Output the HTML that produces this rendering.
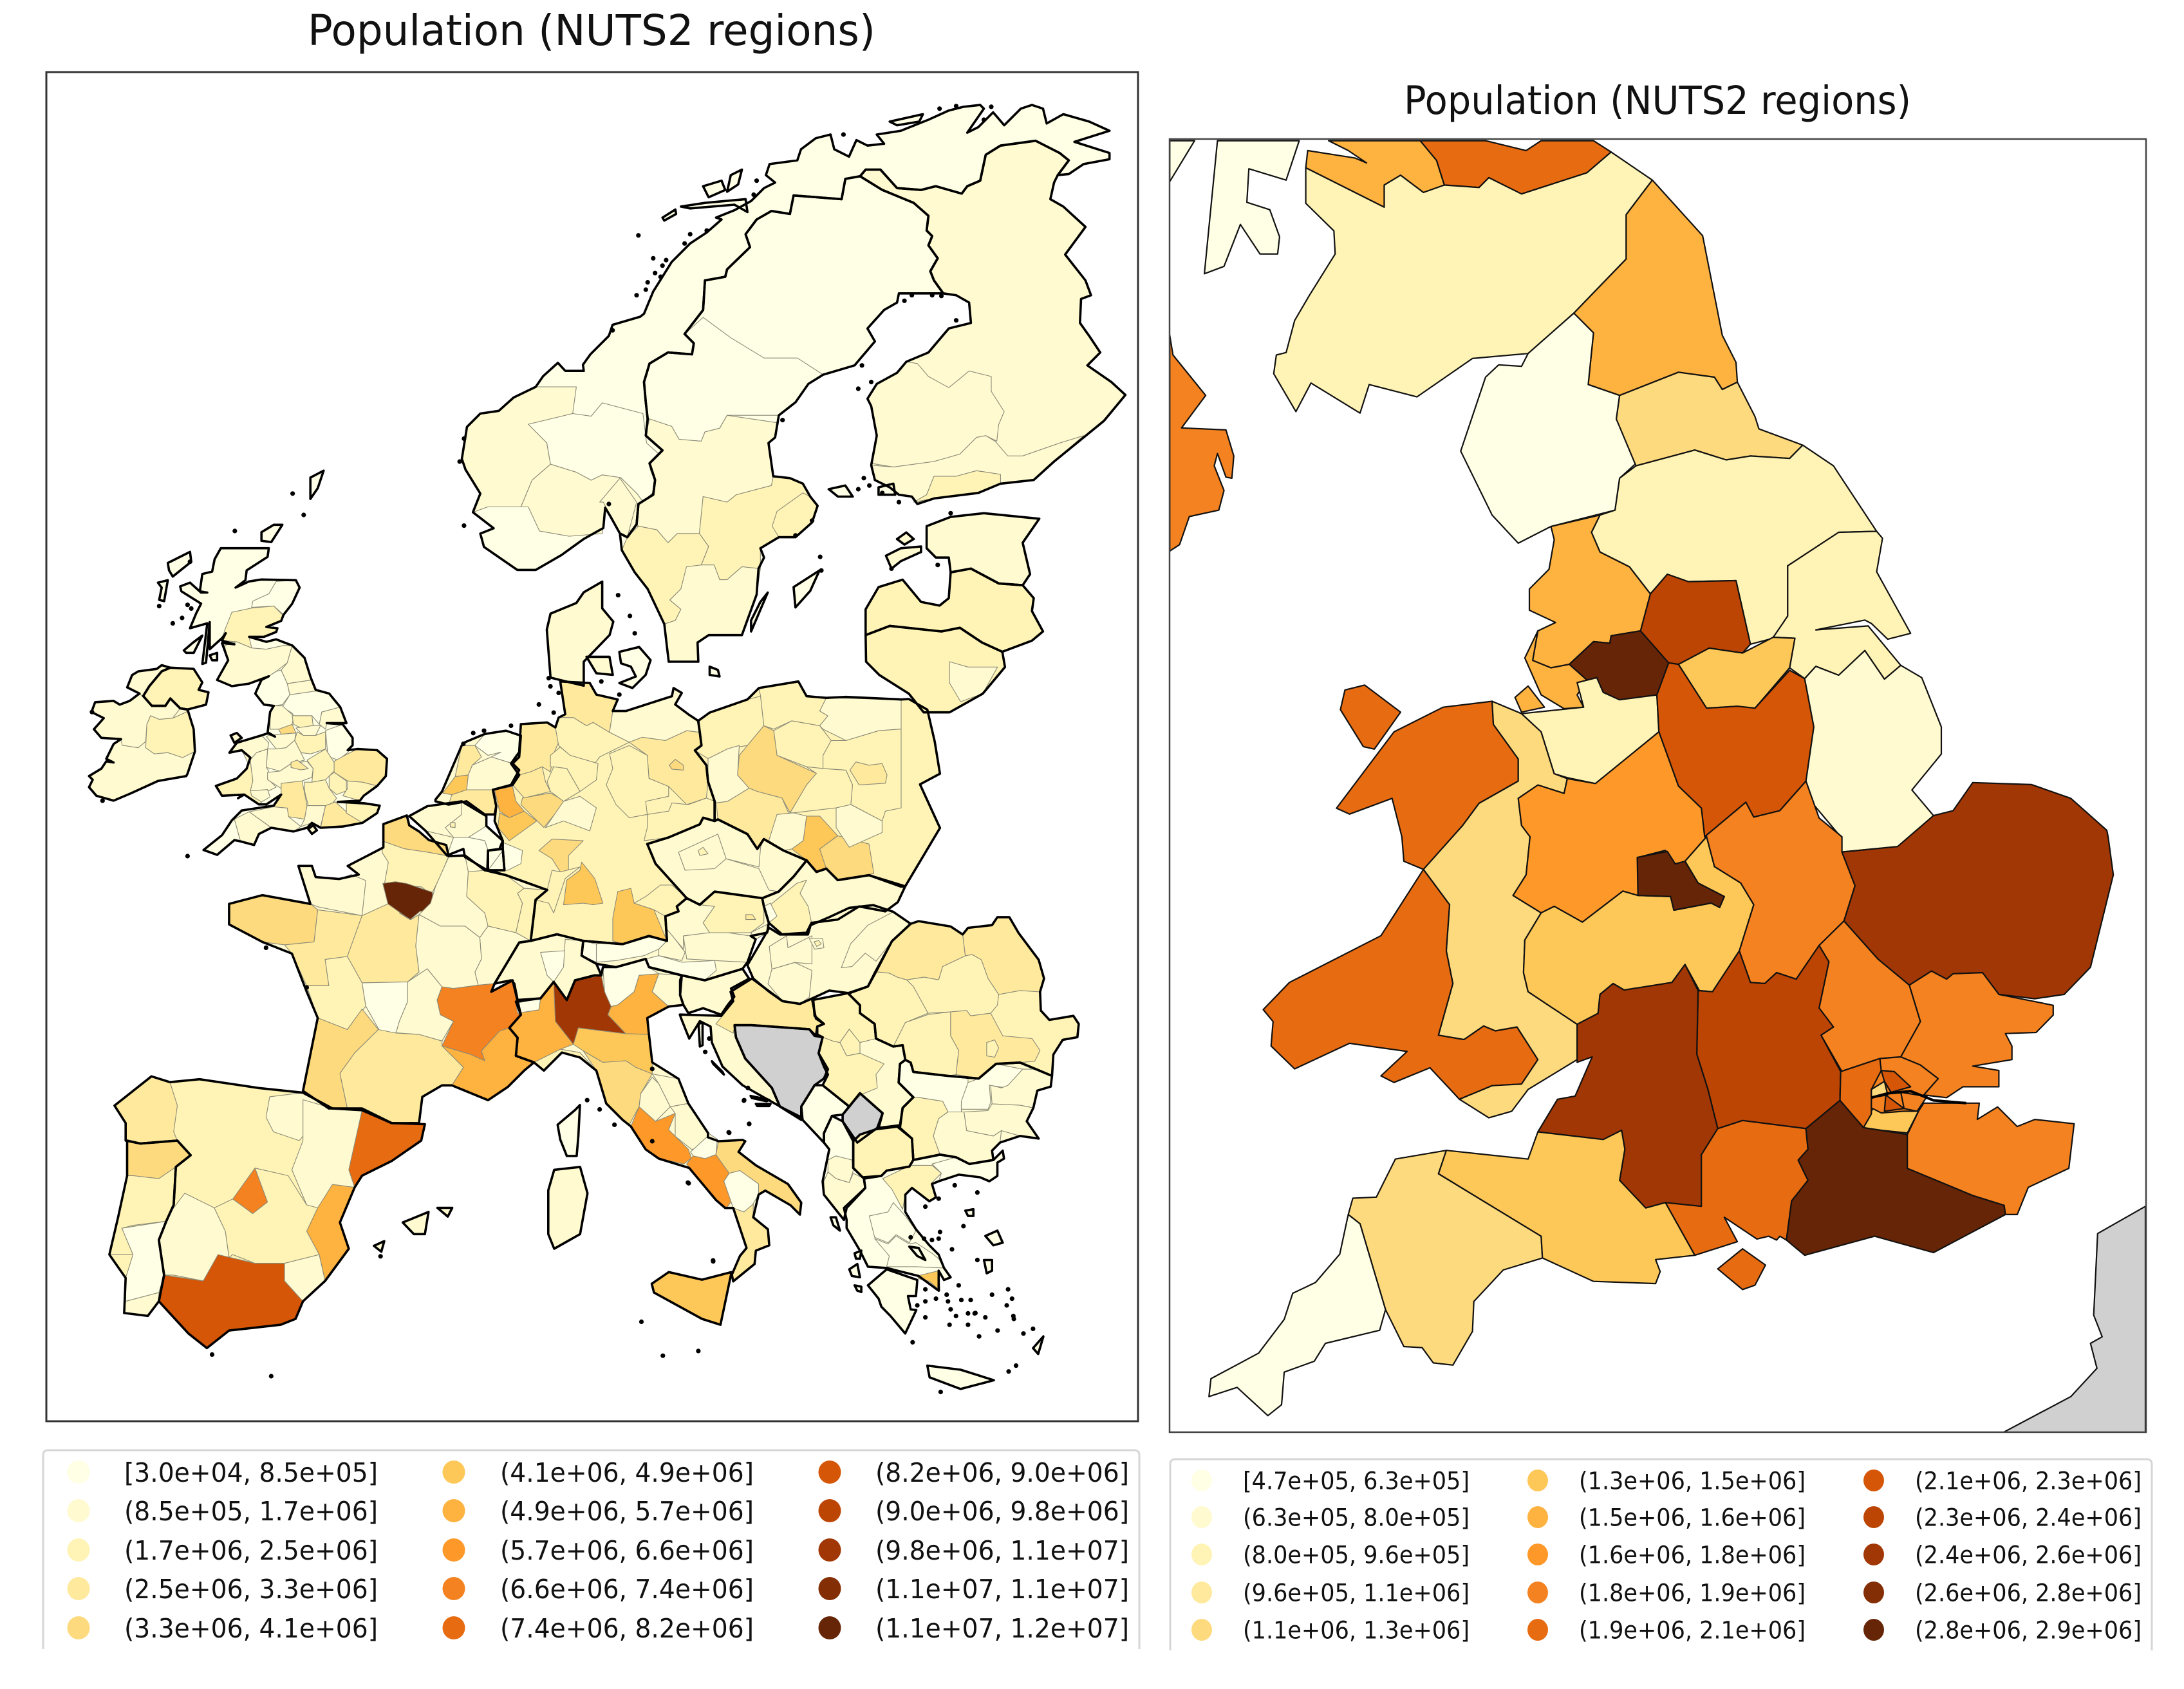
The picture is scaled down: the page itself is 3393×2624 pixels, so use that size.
<!DOCTYPE html>
<html lang="en">
<head>
<meta charset="utf-8">
<title>Population (NUTS2 regions)</title>
<style>
html,body{margin:0;padding:0;background:#fff;}
body{width:3393px;height:2624px;overflow:hidden;}
svg{display:block;}
text{font-family:"DejaVu Sans","Liberation Sans",sans-serif;fill:#111;}
</style>
</head>
<body>
<svg id="figure" xmlns="http://www.w3.org/2000/svg" width="3393" height="2624" viewBox="0 0 3393 2624">
  <defs>
    <clipPath id="clip-left"><rect x="72" y="112" width="1696" height="2096"/></clipPath>
    <clipPath id="clip-right"><rect x="1817" y="216" width="1517" height="2009"/></clipPath>
  </defs>
  <rect x="0" y="0" width="3393" height="2624" fill="#ffffff"/>
  <text x="478" y="70" font-size="66" textLength="882" lengthAdjust="spacingAndGlyphs">Population (NUTS2 regions)</text>
  <text x="2181" y="177" font-size="61" textLength="788" lengthAdjust="spacingAndGlyphs">Population (NUTS2 regions)</text>
  <g id="left-map" clip-path="url(#clip-left)"></g>
  <g id="right-map" clip-path="url(#clip-right)"></g>
  <rect x="72" y="112" width="1696" height="2096" fill="none" stroke="#333" stroke-width="3"/>
  <rect x="1817" y="216" width="1517" height="2009" fill="none" stroke="#444" stroke-width="2.5"/>
  <path d="M67 2562V2261Q67 2253 75 2253H1762Q1770 2253 1770 2261V2562" fill="none" stroke="#d6d6d6" stroke-width="3"/>
  <path d="M1818 2564V2275Q1818 2267 1826 2267H3335Q3343 2267 3343 2275V2564" fill="none" stroke="#d6d6d6" stroke-width="3"/>
  <g id="left-legend"></g>
  <g id="right-legend"></g>
</svg>
<script>
/* ---------- Colour classes and legends ---------- */
const classColors = ['#ffffe5','#fffad0','#fff4b6','#fee99d','#feda7e','#fec858','#feb23f','#fe9929','#f48220','#e76b11','#d55607','#bd4503','#a03704','#832e05','#662506'];
const missingColor = '#d0d0d0';
const leftLegendLabels = ['[3.0e+04, 8.5e+05]','(8.5e+05, 1.7e+06]','(1.7e+06, 2.5e+06]','(2.5e+06, 3.3e+06]','(3.3e+06, 4.1e+06]','(4.1e+06, 4.9e+06]','(4.9e+06, 5.7e+06]','(5.7e+06, 6.6e+06]','(6.6e+06, 7.4e+06]','(7.4e+06, 8.2e+06]','(8.2e+06, 9.0e+06]','(9.0e+06, 9.8e+06]','(9.8e+06, 1.1e+07]','(1.1e+07, 1.1e+07]','(1.1e+07, 1.2e+07]'];
const rightLegendLabels = ['[4.7e+05, 6.3e+05]','(6.3e+05, 8.0e+05]','(8.0e+05, 9.6e+05]','(9.6e+05, 1.1e+06]','(1.1e+06, 1.3e+06]','(1.3e+06, 1.5e+06]','(1.5e+06, 1.6e+06]','(1.6e+06, 1.8e+06]','(1.8e+06, 1.9e+06]','(1.9e+06, 2.1e+06]','(2.1e+06, 2.3e+06]','(2.3e+06, 2.4e+06]','(2.4e+06, 2.6e+06]','(2.6e+06, 2.8e+06]','(2.8e+06, 2.9e+06]'];
const leftBinEdges = [0.85,1.7,2.5,3.3,4.1,4.9,5.7,6.6,7.4,8.2,9.0,9.8,10.5,11.3,12.0];
const rightBinEdges = [0.63,0.80,0.96,1.12,1.28,1.44,1.60,1.76,1.92,2.08,2.24,2.40,2.56,2.72,2.90];

/* ---------- Europe map: population in millions ---------- */
const leftCountryNames = [
 'norway','sweden','finland','estonia','latvia','lithuania',
 'jutland','fyn','sjaelland','great-britain','ireland','northern-ireland','isle-of-wight','anglesey',
 'netherlands','belgium','luxembourg','france','spain','portugal',
 'italy','sicily','sardinia','corsica','switzerland','germany','poland','czechia','slovakia','hungary','austria','slovenia',
 'croatia','bosnia','serbia','kosovo','montenegro','albania','macedonia','bulgaria','romania','greece','peloponnese','crete',
 'gotland','oland','saaremaa','hiiumaa','lofoten','andoya','vesteralen','hinnoya','soroya','shetland','orkney','lewis','uist','islay','arran','mallorca','menorca','ibiza','aland-a','aland-b','bornholm','corfu','euboea','lesbos','chios','lemnos','kefalonia','zakynthos','lefkada','rhodes','krk','pag','brac','hvar'];
const leftCountryValues = [
 0.4,0.4,1.2,1.2,2.0,2.0,
 1.2,1.2,0.4,0.4,1.2,2.1,1.2,1.2,
 1.2,1.2,0.4,1.2,2.1,2.1,
 1.2,4.5,1.6,0.3,1.2,2.1,2.1,1.2,1.2,1.2,1.2,1.2,
 1.2,null,1.2,null,0.4,0.4,2.1,1.2,2.1,0.4,0.4,0.4,
 0.4,0.4,1.2,1.2,0.4,0.4,0.4,0.4,0.4,0.4,0.4,0.4,0.4,0.4,0.4,1.2,1.2,1.2,0.4,0.4,0.4,0.4,0.4,0.4,0.4,0.4,0.4,0.4,0.4,0.4,0.4,0.4,0.4,0.4];
const leftRegionNames = [
 'no-west','no-inner','no-southeast','no-oslo',
 'se-north','se-central','se-east','se-sthlm','se-west','se-south',
 'fi-west','fi-south','fi-helsinki','lt-vilnius',
 'scot-ne','scot-central','scot-south','en-northeast','en-tees','en-cumbria','en-yorks','en-lancs','en-westyorks','en-manch','en-eastyorks','en-southyorks','en-lincoln','en-cheshire','en-derby','wales-nw','en-shrops','wales-east','wales-sw','en-gwent','en-midwest','en-birmingham','en-leics','en-eastanglia','en-beds','en-essex','en-berks','en-wilts','en-hants','en-surrey','en-kent','en-somerset','en-devon','en-cornwall',
 'ie-west','ie-mideast',
 'nl-friesland','nl-noord','nl-zuid','nl-utrecht','nl-brabant',
 'be-flanders','be-brussels','be-liege','be-hainaut',
 'fr-nord','fr-normandy','fr-picardy','fr-paris','fr-brittany','fr-loire','fr-centre','fr-champagne','fr-lorraine','fr-alsace','fr-franche','fr-burgundy','fr-poitou','fr-limousin','fr-auvergne','fr-rhone','fr-paca','fr-aquitaine','fr-midi',
 'es-galicia','es-basque','es-aragon','es-catalonia','es-valencia','es-madrid','es-extremadura','es-mancha','es-andalusia','es-murcia',
 'pt-north','pt-centre','pt-alentejo','pt-algarve',
 'it-aosta','it-piedmont','it-lombardy','it-trentino','it-veneto','it-friuli','it-emilia','it-liguria','it-tuscany','it-umbria','it-marche','it-lazio','it-abruzzo','it-molise','it-campania','it-puglia','it-basilicata','it-calabria',
 'ch-zurich','ch-east',
 'de-schleswig','de-mecklenburg','de-brandenburg','de-berlin','de-weser','de-luneburg','de-braunschweig','de-anhalt','de-munster','de-arnsberg','de-dusseldorf','de-koln','de-kassel','de-hessen','de-trier','de-darmstadt','de-freiburg','de-stuttgart','de-oberbayern','de-niederbayern','de-saxony',
 'pl-zachodnio','pl-pomorskie','pl-warmia','pl-kujawsko','pl-lubuskie','pl-wielkopolska','pl-lodzkie','pl-mazowieckie','pl-warsaw','pl-dolno','pl-opole','pl-slaskie','pl-malopolska','pl-swieto',
 'cz-prague-ring','cz-prague','cz-east',
 'sk-west','sk-bratislava',
 'hu-west','hu-budapest-ring','hu-budapest','hu-east','hu-south',
 'at-tirol','at-vorarlberg','at-kaernten','at-salzburg','at-upper','at-lower','at-vienna','at-steiermark','at-burgenland',
 'hr-pannonian',
 'rs-vojvodina','rs-belgrade','rs-west',
 'al-mid','al-south',
 'bg-nw','bg-north','bg-ne','bg-sw','bg-se','bg-east',
 'ro-nw','ro-ne','ro-center','ro-west','ro-southwest','ro-south','ro-bucharest',
 'gr-macedonia','gr-thrace','gr-thessaly','gr-sterea','gr-attica'];
const leftRegionValues = [
 1.2,0.4,1.2,1.2,
 0.4,1.2,2.1,1.9,2.1,1.2,
 1.2,1.2,2.1,1.0,
 0.4,2.1,1.2,1.2,1.2,0.4,0.4,1.2,2.1,3.7,1.2,1.2,0.4,1.2,2.1,1.2,1.2,1.2,2.1,1.2,1.2,2.9,2.1,2.9,2.1,2.1,2.1,2.9,1.2,2.9,2.1,1.2,1.2,0.4,
 1.2,2.1,
 0.4,2.9,4.5,1.2,2.9,
 1.2,2.1,0.4,0.4,
 3.7,1.2,2.1,11.6,3.7,3.2,2.9,1.2,2.1,2.1,1.2,1.2,2.1,0.4,1.2,7.0,5.3,3.5,2.9,
 2.9,1.2,1.2,7.8,5.3,7.0,1.2,2.1,8.6,1.2,
 3.7,2.1,0.4,1.2,
 0.3,5.3,10.2,0.4,5.3,1.2,4.5,2.1,3.7,1.2,1.2,6.1,1.2,0.4,6.1,3.5,0.4,2.9,
 0.4,1.2,
 2.9,1.6,2.9,3.7,2.9,2.1,2.1,2.1,2.9,3.7,5.3,4.5,2.1,1.2,0.4,3.7,2.5,4.5,4.5,2.1,2.1,
 2.1,2.1,1.2,2.1,1.2,3.7,2.1,2.1,2.9,2.9,1.2,4.5,3.7,1.2,
 1.2,2.1,1.2,
 2.1,0.4,
 1.2,1.2,2.1,1.2,1.2,
 0.4,0.4,0.4,1.2,1.2,2.1,2.9,1.2,1.2,
 2.9,
 2.1,2.1,2.1,
 1.2,1.2,
 0.4,0.4,1.2,2.1,1.2,1.2,
 2.9,2.9,2.1,2.1,2.1,2.9,2.1,
 2.1,0.4,0.4,0.4,4.5];

const leftCountryShapes = {
 'norway':'A 755,680 765,695 790,695 H 10,778 30,750 80,700 90,670 165,648 175,640 200,580 250,500 300,450 345,420 385,385 370,380 420,360 465,335 500,300 530,285 505,265 515,235 590,225 600,195 640,165 680,155 690,195 730,215 750,170 780,185 825,180 805,155 870,145 945,115 1000,90 1040,80 1085,75 1095,85 1050,150 1080,135 1120,95 1150,130 1195,85 1225,75 1255,85 1265,125 1310,100 1380,120 1435,145 1340,175 1435,205 1435,222 1365,235 1325,262 1295,265 1325,225 1300,205 1235,172 1140,185 1100,210 1085,280 1050,295 1035,315 965,295 925,305 860,300 815,250 775,250 760,268 720,275 710,330 580,320 570,370 520,362 480,385 450,425 462,460 400,520 395,540 340,550 335,630 285,695 310,720 305,750 240,745 190,775 175,825 180,880 185,925 180,970 225,1010 190,1045 205,1090 200,1130 160,1155 155,1210 130,1245 110,1235 85,1190 70,1165 65,1220 A 790,1010 760,1040 725,1068 700,1068 655,1025 650,1000 668,990 640,960 650,925 630,880 625,860 632,800 650,775 675,770 695,745 725,725 735,705',
 'sweden':'H 760,268 820,305 905,340 945,375 940,415 955,430 945,455 970,490 950,525 960,550 985,585 960,585 865,585 860,610 825,630 780,680 800,715 745,780 660,805 620,830 585,880 540,915 530,975 512,990 525,1080 570,1085 605,1100 625,1135 645,1160 630,1205 585,1245 540,1245 490,1275 500,1300 485,1330 480,1400 440,1510 350,1510 320,1530 A 945,1240 905,1240 H 230,1480 185,1385 150,1340 115,1280 110,1235 130,1245 155,1210 160,1155 200,1130 205,1090 190,1045 225,1010 180,970 185,925 180,880 175,825 190,775 240,745 305,750 310,720 285,695 335,630 340,550 395,540 400,520 462,460 450,425 480,385 520,362 570,370 580,320 710,330 720,275',
 'finland':'H 760,268 775,250 815,250 860,300 925,305 965,295 1035,315 1050,295 1085,280 1100,210 1140,185 1235,172 1300,205 1325,225 1295,265 1285,285 1275,330 1310,350 1370,405 1315,480 1370,550 1385,590 1358,600 1355,665 1380,700 1410,745 1375,780 1440,825 1478,860 1420,930 1365,975 1285,1040 1230,1090 1140,1100 1080,1125 960,1140 915,1155 900,1135 865,1130 840,1110 800,1090 790,1050 805,970 790,890 780,870 805,830 860,800 885,770 945,745 1000,680 1060,665 1055,610 1020,590 985,585 960,550 950,525 970,490 945,455 955,430 940,415 945,375 905,340 820,305',
 'estonia':'H 940,1215 1005,1190 1095,1180 1245,1195 1200,1260 1220,1345 1200,1375 1135,1370 1060,1330 1005,1340 1000,1300 965,1300 940,1275',
 'latvia':'H 775,1510 775,1440 810,1380 875,1360 925,1420 975,1430 1000,1410 1005,1340 1060,1330 1135,1370 1200,1375 1230,1410 1225,1445 1255,1500 1225,1525 1145,1555 1090,1530 1030,1490 980,1500 840,1485',
 'lithuania':'H 775,1510 840,1485 980,1500 1030,1490 1090,1530 1145,1555 A 1360,1250 1330,1300 1285,1335 1250,1335 1230,1300 1190,1265 1172,1240',
 'jutland':'A 815,1090 790,1110 780,1130 745,1150 740,1180 745,1270 760,1275 790,1285 790,1240 825,1190 830,1165 815,1140',
 'fyn':'E 610,40 680,40 690,95 640,90',
 'sjaelland':'E 710,25 770,10 805,50 790,95 750,135 710,120 760,100 745,70 715,60',
 'great-britain':'F 635,135 830,135 825,170 740,225 735,265 695,295 750,270 800,262 940,265 955,295 925,360 890,405 880,430 820,455 865,460 860,475 810,495 750,495 820,515 860,505 925,530 975,580 1000,660 1020,710 1075,725 1120,780 1145,845 1065,845 1130,850 1170,905 1170,935 1150,955 1190,950 1270,955 1310,990 1305,1060 1270,1100 1215,1140 1200,1160 1110,1165 1215,1170 1280,1180 1270,1210 1210,1250 1130,1265 1040,1270 1005,1250 985,1270 930,1285 840,1270 790,1295 770,1340 715,1325 690,1320 620,1380 565,1360 640,1300 680,1240 720,1200 850,1180 880,1135 820,1175 790,1175 730,1135 705,1150 730,1135 640,1140 615,1100 700,1070 740,1030 755,985 720,955 670,965 700,925 800,895 830,885 855,900 825,885 835,800 850,775 810,770 775,725 800,670 830,655 750,685 680,695 620,670 665,590 640,520 690,525 640,510 655,480 640,500 590,545 590,435 575,600 560,605 580,440 510,460 535,400 555,360 475,310 470,290 510,275 555,315 580,315 550,310 560,240 600,230 610,180',
 'ireland':'F 125,760 200,755 225,770 265,755 305,725 255,700 275,650 300,635 375,625 395,610 430,620 395,635 345,695 320,735 355,775 410,775 430,745 470,785 500,790 525,870 530,960 500,1050 495,1060 380,1080 270,1130 200,1160 130,1140 100,1105 115,1075 100,1060 150,1030 170,1000 200,1005 170,990 200,930 230,910 150,905 120,870 160,825 110,800',
 'northern-ireland':'F 320,735 345,695 395,635 430,620 525,625 560,680 545,710 585,720 575,770 500,790 470,785 430,745 410,775 355,775',
 'isle-of-wight':'F 990,1275 1010,1260 1025,1280 1005,1295',
 'anglesey':'F 675,895 700,885 720,905 690,925',
 'netherlands':'E 150,475 170,450 230,310 240,300 300,275 365,265 410,280 405,345 385,365 405,385 380,430 325,445 335,495 330,520 300,520 245,480 190,490 150,480',
 'belgium':'E 70,525 125,495 230,480 305,525 305,555 355,600 345,625 310,630 308,690 240,650 235,625 185,645 120,570',
 'luxembourg':'E 310,630 355,625 360,690 310,690',
 'france':'F 1295,1255 1390,1220 1400,1260 1440,1285 1480,1320 1550,1340 1560,1385 E 240,645 300,690 365,705 490,750 455,780 440,905 405,910 330,1035 320,1060 385,1025 410,1130 375,1170 400,1200 395,1255 450,1275 420,1300 370,1350 310,1390 200,1345 170,1345 110,1380 100,1460 B 530,600 490,575 445,575 410,545 430,420 415,375 395,310 355,290 310,260 310,225 355,210 420,225 F 950,1425 1005,1425 1020,1470 1115,1478 1195,1460 1150,1425 1295,1350',
 'spain':'B 155,570 205,520 230,530 270,525 350,540 410,548 450,575 490,578 530,600 575,602 570,630 530,665 490,690 480,710 460,770 472,815 440,870 410,905 400,935 380,945 310,955 280,985 255,960 215,905 222,860 215,800 225,768 235,740 238,675 258,655 240,630 190,635 170,630 170,600',
 'portugal':'B 172,630 190,635 240,630 258,655 238,675 235,740 225,768 215,800 222,860 215,905 200,930 168,925 170,865 148,825 160,760 172,690',
 'italy':'E 395,1090 470,1080 510,1030 550,1085 575,1025 635,1010 655,1010 660,985 700,985 790,960 800,985 900,1010 895,1070 905,1100 860,1105 795,1140 800,1190 810,1275 890,1325 920,1400 980,1490 G 120,885 160,900 250,895 260,900 235,940 300,990 420,1060 470,1130 465,1175 430,1140 335,1085 310,1100 290,1185 345,1230 350,1290 300,1310 295,1360 215,1425 210,1400 240,1330 265,1300 215,1150 185,1150 150,1120 100,1060 50,1000 E 830,1568 790,1540 745,1470 720,1450 670,1400 640,1300 590,1260 535,1245 480,1300 450,1275 395,1255 400,1200 375,1170 410,1130',
 'sicily':'B 882,875 905,855 950,868 990,855 975,945 950,935 885,890',
 'sardinia':'B 742,715 750,680 785,675 795,720 785,790 750,815 742,790',
 'corsica':'E 522,1465 575,1420 590,1405 585,1500 580,1560 550,1560 530,1510',
 'switzerland':'E 330,1035 405,910 440,905 520,885 600,905 595,950 640,975 655,1010 635,1010 575,1025 550,1085 510,1030 470,1080 400,1085 390,1035 380,1025',
 'germany':'E 530,115 620,120 640,155 705,170 690,205 730,205 870,160 875,135 900,150 880,185 920,215 950,235 955,270 960,310 940,325 975,370 980,420 1000,480 1000,540 965,530 955,550 860,590 795,610 820,670 915,775 885,800 890,815 850,830 855,905 800,890 720,915 660,910 600,905 520,885 440,905 455,780 490,750 365,705 310,690 360,690 355,625 355,600 330,540 335,495 325,445 385,430 405,400 380,365 405,330 410,245 490,240 515,255 525,225 545,215',
 'poland':'E 950,235 985,210 1100,170 1135,135 1255,115 1280,160 1340,165 1400,162 1568,170 A 1230,1310 1255,1330 1265,1390 1272,1450 1245,1470 B 1272,95 1225,195 E 1568,740 1470,705 1375,720 1340,685 1310,695 1280,660 1210,630 1150,595 1130,625 1100,580 1010,535 1000,540 1000,480 980,420 975,370 940,325 960,310 955,270',
 'czechia':'E 795,610 860,590 955,550 965,530 1000,540 1010,535 1100,580 1130,625 1150,595 1210,630 1280,660 1240,710 1195,755 1145,775 1000,755 955,795 915,775 820,670',
 'slovakia':'E 1145,775 1195,755 1240,710 1280,660 1310,695 1340,685 1375,720 1470,705 1568,735 B 1225,195 1215,222 E 1520,815 1440,800 1375,840 1295,850 1280,880 1205,885 1165,850 1150,800',
 'hungary':'G 268,240 350,100 390,125 495,125 505,90 575,60 650,25 740,15 815,40 880,85 810,150 745,270 720,320 650,345 575,335 510,365 465,385 400,375 350,340 290,290',
 'austria':'E 660,910 720,915 800,890 855,905 850,830 890,815 885,800 915,775 955,795 1000,755 1145,775 1150,800 1165,850 1160,880 1110,890 1125,900 1100,970 1085,990 970,1025 900,1010 800,985 790,960 700,985 640,975 595,950 600,905',
 'slovenia':'E 895,1025 900,1010 970,1025 1085,990 1105,1020 1050,1050 1060,1075 1040,1100 1020,1130 965,1110 920,1125 905,1100 895,1070',
 'croatia':'G 215,375 205,340 285,290 400,375 465,385 510,365 525,440 555,460 530,470 525,505 500,480 285,465 220,465 225,510 260,590 360,700 390,770 470,820 400,775 320,730 250,690 175,620 135,530 130,470 90,450 50,515 20,440 15,425 170,430',
 'bosnia':'G 220,465 285,465 500,480 520,505 550,510 535,570 570,630 555,665 520,690 470,770 470,810 390,770 360,700 260,590 225,510',
 'serbia':'G 515,370 645,345 690,390 690,420 745,460 750,515 815,545 850,540 860,595 840,610 835,680 890,735 850,775 840,840 760,850 775,795 690,720 650,770 550,690 570,650 555,620 535,570 550,510 530,500 530,470 555,460 520,430',
 'kosovo':'G 625,800 690,720 775,795 755,850 680,905 625,825',
 'montenegro':'G 475,820 470,770 520,690 550,690 650,770 625,800 585,805 555,870 555,905',
 'albania':'G 555,905 555,870 585,805 625,825 665,900 665,1000 705,1040 710,1075 640,1150 630,1195 555,1100 550,1050 575,930',
 'macedonia':'G 665,900 690,875 750,855 830,845 885,890 890,970 875,995 790,1010 770,1030 700,1035 665,1000',
 'bulgaria':'G 840,610 860,595 880,605 890,640 1020,655 1135,665 1200,610 1290,605 1350,630 1410,655 1405,695 1355,710 1340,775 1315,825 1360,890 1290,880 1215,905 1185,935 1190,970 1100,985 1050,960 990,950 890,970 885,890 840,850 850,775 890,735 835,680',
 'romania':'G 750,265 810,150 880,85 910,75 1030,95 1075,125 1095,100 1185,90 1205,60 1250,60 1285,120 1360,220 1380,290 1365,340 1368,410 1400,445 1490,430 1510,460 1505,510 1450,520 1415,575 1410,655 1350,630 1290,605 1200,610 1135,665 1020,655 890,640 880,605 860,595 850,540 815,545 750,515 745,460 690,420 690,390 645,345 720,320',
 'greece':'G 640,1195 630,1150 710,1075 705,1040 770,1030 790,1010 875,995 890,970 990,950 1050,960 1100,985 1190,970 1225,935 1230,965 1205,980 1205,1030 1175,1050 1140,1035 1060,1025 985,1050 960,1060 975,1110 950,1125 885,1075 860,1100 860,1165 900,1230 950,1290 985,1325 1005,1375 1030,1410 1005,1420 985,1385 985,1460 910,1405 790,1375 720,1370 690,1310 640,1225',
 'peloponnese':'G 720,1440 790,1380 905,1420 900,1480 870,1480 880,1530 B 1240,920 1225,960 1205,930 G 770,1520 760,1490',
 'crete':'B 1255,1015 1300,1022 1345,1040 1300,1055 1258,1035',
 'gotland':'H 580,1380 650,1335 625,1390 585,1435',
 'oland':'H 510,1395 465,1500 465,1470 490,1420',
 'saaremaa':'H 830,1295 870,1275 925,1270 925,1285 870,1310 845,1330',
 'hiiumaa':'H 860,1250 885,1232 905,1250 880,1265',
 'lofoten':'H 275,350 340,340 450,330 455,365 420,345 300,355',
 'andoya':'H 225,380 260,358 262,370 230,388',
 'vesteralen':'H 335,295 385,280 395,305 350,325',
 'hinnoya':'H 410,265 440,250 430,290 400,310',
 'soroya':'H 840,120 930,100 920,120 860,130',
 'shetland':'A 420,895 438,882 430,915 420,935',
 'orkney':'F 800,70 850,40 885,40 840,110 800,105',
 'lewis':'F 420,195 510,150 515,190 440,250 425,225',
 'uist':'F 380,275 420,265 405,350 385,345 395,295',
 'islay':'F 485,550 520,520 560,490 525,560 495,560',
 'arran':'F 590,570 620,560 620,590 600,590',
 'mallorca':'B 545,770 580,752 575,790 560,790',
 'menorca':'B 592,745 612,745 606,760',
 'ibiza':'B 506,810 520,802 516,820',
 'aland-a':'H 675,1115 720,1105 740,1135 700,1135',
 'aland-b':'H 810,1110 850,1100 855,1130 810,1130',
 'bornholm':'E 985,70 1010,80 1015,100 985,95',
 'corfu':'G 580,1185 600,1185 615,1235 590,1215',
 'euboea':'G 875,1295 910,1300 935,1345 905,1330',
 'lesbos':'G 1160,1255 1205,1235 1225,1280 1190,1290',
 'chios':'G 1155,1345 1185,1345 1185,1385 1165,1395',
 'lemnos':'G 1085,1160 1115,1155 1115,1180 1095,1180',
 'kefalonia':'G 650,1380 680,1360 690,1410 660,1405',
 'zakynthos':'G 670,1440 695,1445 695,1465 680,1460',
 'lefkada':'G 670,1320 695,1310 690,1340 675,1340',
 'rhodes':'B 1398,985 1412,965 1405,995',
 'krk':'G 85,460 100,455 100,540 90,545',
 'pag':'G 135,600 175,640 180,650 140,610',
 'brac':'G 280,730 350,745 340,750 285,738',
 'hvar':'G 300,760 355,760 350,768 305,768'
};

const leftRegionShapes = {
 'no-west':'A 725,725 780,725 775,775 715,795 740,830 745,870 720,900 705,950 660,950 640,960 650,925 630,880 625,860 632,800 650,775 675,770 695,745',
 'no-inner':'A 715,795 775,775 800,780 815,755 870,775 875,830 895,855 880,880 890,915 870,940 862,925 840,895 815,890 800,900 780,885 745,870 740,830',
 'no-southeast':'A 745,870 780,885 800,900 815,890 840,895 862,925 870,940 860,1005 820,945 815,1000 770,1005 730,995 715,950 705,950 720,900',
 'no-oslo':'H 55,1150 110,1085 155,1150 130,1245 110,1235 85,1190 65,1150',
 'se-north':'H 335,650 410,705 500,760 590,760 660,805 620,830 585,880 540,915 400,915 380,950 340,960 330,985 270,980 250,945 190,925 185,925 180,880 175,825 190,775 240,745 305,750 310,720 285,695',
 'se-central':'H 190,925 250,945 270,980 330,985 340,960 380,950 400,915 535,935 530,975 512,990 525,1080 520,1105 425,1130 400,1150 335,1135 325,1235 265,1235 240,1260 210,1225 160,1215 155,1210 160,1155 200,1130 205,1090 190,1045 225,1010 180,970',
 'se-east':'H 335,1135 400,1150 425,1130 520,1105 525,1080 570,1085 605,1100 625,1135 645,1160 630,1205 585,1245 540,1245 490,1275 490,1330 440,1325 400,1360 380,1360 365,1320 330,1320 350,1270 325,1235',
 'se-sthlm':'H 605,1125 625,1135 645,1160 630,1205 585,1245 540,1245 522,1215 535,1175',
 'se-west':'H 115,1280 130,1245 160,1215 210,1225 240,1260 265,1235 325,1235 350,1270 330,1320 290,1330 275,1385 245,1415 275,1440 260,1470 230,1480 185,1385 150,1340',
 'se-south':'H 290,1325 330,1320 365,1320 380,1360 400,1360 440,1325 490,1330 480,1400 440,1510 350,1510 320,1530 A 945,1240 905,1240 H 230,1480 260,1470 275,1440 245,1415 275,1385',
 'fi-west':'H 790,1045 850,1055 960,1040 1030,1020 1075,975 1100,970 1130,985 1135,940 1150,905 1115,850 1115,810 1055,795 1025,820 1000,840 945,810 915,775 885,770 860,800 805,830 780,870 790,890 805,970',
 'fi-south':'H 1125,985 1160,1025 1200,1025 1300,990 1365,970 1285,1040 1230,1090 1140,1100 1140,1075 1075,1065 1020,1080 960,1080 940,1130 915,1155 900,1135 865,1130 840,1110 800,1090 790,1050 850,1055 960,1040 1030,1020 1075,975 1100,970',
 'fi-helsinki':'H 905,1150 940,1130 960,1080 1020,1080 1075,1065 1140,1075 1140,1100 1080,1125 960,1140',
 'lt-vilnius':'A 1285,1240 1310,1250 1350,1250 1330,1300 1300,1315 1285,1280',
 'scot-ne':'F 760,375 765,350 830,320 860,270 940,265 955,295 925,360 890,405 850,370',
 'scot-central':'F 680,395 760,378 850,370 885,405 880,430 820,455 865,460 860,475 810,495 750,495 760,540 700,515 640,510 650,470',
 'scot-south':'F 650,530 700,515 760,540 820,545 890,530 925,530 905,600 860,635 830,655 750,685 680,695 620,670 665,590',
 'en-northeast':'F 925,530 975,580 1000,660 1005,670 905,685 880,630 905,600',
 'en-tees':'F 905,685 1005,670 1020,720 915,730',
 'en-cumbria':'F 830,655 860,635 880,630 905,685 915,730 885,770 850,775 810,770 775,725 800,670',
 'en-yorks':'F 915,730 1020,715 1075,725 1120,780 1045,800 1035,850 1005,815 930,815 925,805 885,780',
 'en-lancs':'F 850,775 885,775 930,815 925,850 875,870 835,870 835,800',
 'en-westyorks':'F 925,815 1005,815 1010,855 960,865 930,850',
 'en-manch':'F 870,870 925,850 940,885 880,890',
 'en-eastyorks':'F 1045,800 1120,780 1145,845 1065,845 1060,870 1035,850',
 'en-southyorks':'F 940,865 1010,855 1040,855 1020,895 970,895',
 'en-lincoln':'F 1060,875 1130,850 1170,905 1170,935 1150,965 1110,995 1070,980',
 'en-cheshire':'F 830,895 940,885 935,915 900,945 860,950 820,900',
 'en-derby':'F 935,915 945,880 970,895 1020,895 1060,880 1060,950 1000,970 960,965',
 'wales-nw':'F 670,965 700,925 800,895 830,925 825,950 780,965 745,1005 720,955',
 'en-shrops':'F 825,950 860,950 900,945 935,915 960,965 975,995 920,1010 875,1040 820,1025',
 'wales-east':'F 745,1005 780,965 825,950 820,1025 830,1040 825,1070 860,1105 830,1120 755,1120 765,1080 755,1000',
 'wales-sw':'F 615,1100 700,1070 740,1030 755,1000 765,1080 755,1120 790,1120 825,1115 830,1140 790,1175 730,1135 640,1140',
 'en-gwent':'F 755,1120 825,1115 835,1145 800,1165 760,1140',
 'en-midwest':'F 825,1045 875,1040 920,1010 985,1000 1010,1030 1005,1065 965,1080 880,1110 825,1075',
 'en-birmingham':'F 920,1005 945,995 990,1030 960,1035 920,1025',
 'en-leics':'F 985,995 1060,950 1095,1005 1095,1040 1060,1075 1005,1085 1010,1030',
 'en-eastanglia':'F 1095,1000 1150,970 1190,950 1270,955 1310,990 1305,1060 1270,1100 1210,1085 1150,1080 1095,1045',
 'en-beds':'F 1075,1060 1095,1045 1145,1080 1145,1120 1105,1135 1075,1110',
 'en-essex':'F 1150,1080 1210,1085 1270,1100 1215,1140 1200,1160 1130,1140 1150,1110',
 'en-berks':'F 975,1085 1005,1085 1060,1075 1075,1110 1105,1150 1080,1180 990,1180 975,1120',
 'en-wilts':'F 880,1090 965,1080 985,1180 975,1235 910,1225 905,1190 850,1185 880,1135',
 'en-hants':'F 985,1180 1060,1180 1040,1265 1005,1250 960,1265 975,1235',
 'en-surrey':'F 1060,1180 1100,1165 1145,1205 1210,1250 1130,1265 1040,1270',
 'en-kent':'F 1145,1170 1280,1180 1270,1210 1210,1250 1145,1210',
 'en-somerset':'F 750,1205 850,1185 905,1190 910,1225 960,1265 930,1285 840,1270',
 'en-devon':'F 690,1235 750,1205 840,1270 790,1295 770,1340 715,1325',
 'en-cornwall':'F 565,1360 640,1300 680,1240 690,1235 715,1325 690,1320 620,1380',
 'ie-west':'F 110,800 125,760 200,755 225,770 265,755 305,725 355,775 410,775 430,745 470,785 440,825 385,830 350,815 335,850 330,920 300,945 235,935 230,910 150,905 120,870 160,825',
 'ie-mideast':'F 335,850 350,815 385,830 440,825 495,800 500,790 525,870 530,960 480,985 420,965 365,970 330,945',
 'nl-friesland':'E 270,310 300,275 365,265 410,280 405,345 385,365 320,345 350,330 310,340',
 'nl-noord':'E 230,310 270,310 290,345 262,370 250,400 210,405',
 'nl-zuid':'E 172,455 210,405 250,400 245,445 200,460',
 'nl-utrecht':'E 262,370 320,345 385,365 405,385 380,430 325,445 245,445 250,400',
 'nl-brabant':'E 190,490 200,460 245,445 325,445 335,495 330,520 300,520 245,480',
 'be-flanders':'E 70,525 125,495 230,480 230,520 180,560 205,590 120,570',
 'be-brussels':'E 195,545 210,545 210,560 195,558',
 'be-liege':'E 250,590 305,555 355,600 345,625 310,630 300,600',
 'be-hainaut':'E 185,645 235,625 240,650 308,690 310,630 300,600 250,590 205,590',
 'fr-nord':'F 1295,1255 1390,1220 1400,1260 1440,1285 1480,1320 1550,1340 1560,1385 1480,1370 1380,1355 1295,1325',
 'fr-normandy':'F 950,1425 1005,1425 1020,1470 1115,1478 1165,1460 B 495,185 490,245 430,230 420,225',
 'fr-picardy':'F 1290,1370 1295,1325 1380,1355 1480,1370 1560,1385 1530,1460 1490,1540 1450,1510 1300,1495 1315,1410',
 'fr-paris':'B 518,190 535,187 550,190 585,205 587,220 582,235 568,238 555,252 540,240 525,225',
 'fr-brittany':'B 310,225 355,210 420,225 430,235 425,290 385,295 355,290 310,260',
 'fr-loire':'B 430,235 490,245 470,315 440,320 445,365 415,365 395,310 385,295 425,290',
 'fr-centre':'B 490,245 525,225 555,252 E 40,820 75,840 100,825 90,920 100,1000 65,1030 B 490,360 470,315',
 'fr-champagne':'E 190,650 240,645 250,695 245,770 300,820 310,860 285,895 240,860 165,860 100,825 135,790 150,740',
 'fr-lorraine':'E 250,695 300,690 365,705 420,745 400,760 415,790 395,880 310,860 300,820 245,770',
 'fr-alsace':'E 420,745 490,750 455,780 440,905 395,880 415,790 400,760',
 'fr-franche':'E 285,895 310,860 395,880 440,905 405,910 330,1035 280,1040 270,1000 290,960',
 'fr-burgundy':'E 100,825 165,860 240,860 285,895 290,960 270,1000 280,1040 205,1050 170,1045 125,990 65,1030 100,1000 90,920',
 'fr-poitou':'B 415,365 445,365 440,320 470,315 490,360 495,400 470,440 430,420',
 'fr-limousin':'B 490,360 E 65,1030 65,1090 40,1150 30,1185 B 515,445 495,400',
 'fr-auvergne':'E 65,1030 125,990 170,1045 155,1085 165,1130 205,1150 170,1210 100,1190 30,1185 40,1150 65,1090',
 'fr-rhone':'E 170,1045 205,1050 280,1040 330,1035 320,1060 385,1025 410,1130 375,1170 345,1180 290,1240 300,1270 255,1250 170,1225 205,1150 165,1130 155,1085',
 'fr-paca':'E 170,1225 255,1250 300,1270 290,1240 345,1180 375,1170 400,1200 395,1255 450,1275 420,1300 370,1350 310,1390 200,1345 235,1290',
 'fr-aquitaine':'B 430,420 470,440 490,405 512,440 480,480 460,515 470,575 445,575 410,545',
 'fr-midi':'B 512,440 536,446 E 100,1190 170,1210 170,1225 235,1290 200,1345 170,1345 110,1380 100,1460 B 530,600 490,575 470,575 460,515 480,480',
 'es-galicia':'B 155,570 205,520 230,530 240,570 235,615 240,630 190,635 170,630 170,600',
 'es-basque':'B 360,590 365,555 410,548 450,575 425,600 405,630 370,615',
 'es-aragon':'B 410,560 450,575 490,578 480,710 440,750 415,740 395,680 410,630',
 'es-catalonia':'B 490,578 530,600 575,602 570,630 530,665 490,690 480,710 472,680',
 'es-valencia':'B 450,705 480,710 460,770 472,815 440,870 432,825 415,785 430,745',
 'es-madrid':'B 345,677 362,735 342,755 315,730',
 'es-extremadura':'B 220,770 250,720 290,745 305,785 310,830 275,870 235,860 222,860 215,800',
 'es-mancha':'B 290,745 315,730 342,755 362,735 345,677 390,690 415,740 430,745 415,785 432,825 385,840 345,840 315,825 310,830 305,785',
 'es-andalusia':'B 215,905 222,860 275,870 295,825 345,840 385,840 385,870 410,905 400,935 380,945 310,955 280,985 255,960',
 'es-murcia':'B 385,840 432,825 440,870 410,905 385,870',
 'pt-north':'B 172,630 190,635 240,630 258,655 238,675 215,695 180,690 172,690',
 'pt-centre':'B 172,690 180,690 215,695 238,675 235,740 225,768 180,775 165,780 180,825 148,825 160,760',
 'pt-alentejo':'B 165,780 215,770 225,768 215,800 222,860 215,890 170,905 170,865 180,825',
 'pt-algarve':'B 170,905 215,890 215,905 200,930 168,925',
 'it-aosta':'E 395,1095 470,1080 465,1115 400,1125',
 'it-piedmont':'E 410,1130 400,1125 465,1115 470,1080 510,1030 550,1085 515,1150 570,1220 530,1235 480,1300 450,1275 395,1255 400,1200 375,1170',
 'it-lombardy':'E 510,1030 550,1085 575,1025 635,1010 655,1010 665,1060 685,1105 675,1130 730,1188 585,1170 570,1220 515,1150',
 'it-trentino':'E 660,985 700,985 790,960 800,985 830,1005 770,1010 755,1060 705,1100 685,1105 665,1060',
 'it-veneto':'E 770,1010 830,1005 810,1060 860,1105 795,1140 800,1190 730,1188 675,1130 685,1105 705,1100 755,1060',
 'it-friuli':'E 830,1005 900,1010 895,1070 905,1100 860,1105 810,1060',
 'it-emilia':'E 585,1170 730,1188 800,1190 810,1275 810,1310 760,1290 730,1270 660,1275 600,1240 570,1220',
 'it-liguria':'E 450,1275 530,1235 590,1245 640,1300 590,1260 535,1245 480,1300',
 'it-tuscany':'E 600,1240 660,1275 730,1270 760,1290 810,1310 775,1370 770,1410 740,1465 720,1450 670,1400 640,1300',
 'it-umbria':'E 775,1370 810,1320 830,1340 865,1410 820,1455 770,1410',
 'it-marche':'E 810,1310 890,1325 920,1400 865,1410 830,1340',
 'it-lazio':'E 770,1410 820,1455 880,1430 860,1480 920,1540 930,1568 G 55,965 30,985 0,978 E 830,1568 790,1540 745,1470',
 'it-abruzzo':'E 865,1410 920,1400 980,1490 1010,1510 975,1530 930,1540 880,1500 880,1430',
 'it-molise':'G 55,940 115,885 155,900 150,950 110,965 65,955',
 'it-campania':'G 40,985 65,955 110,965 150,950 200,1020 180,1050 215,1115 190,1150 150,1120 100,1060',
 'it-puglia':'G 150,950 160,900 250,895 260,900 235,940 300,990 420,1060 470,1130 465,1175 430,1140 335,1085 310,1095 310,1060 240,1010 200,1020',
 'it-basilicata':'G 200,1020 240,1010 310,1060 310,1100 280,1150 255,1165 215,1150 180,1050',
 'it-calabria':'G 215,1150 255,1165 290,1135 290,1185 345,1230 350,1290 300,1310 295,1360 215,1425 210,1400 240,1330 265,1300',
 'ch-zurich':'E 470,940 545,935 540,985 510,1030 490,1010',
 'ch-east':'E 545,900 600,905 595,950 640,975 655,1010 575,1025 550,1085 510,1030 540,985',
 'de-schleswig':'E 530,115 620,120 640,155 705,170 690,205 680,270 630,240 610,250 570,225 525,225 545,215',
 'de-mecklenburg':'E 690,205 730,205 870,160 875,135 900,150 880,185 920,215 950,235 955,270 915,265 850,295 780,285 740,300 680,270',
 'de-brandenburg':'E 740,300 780,285 850,295 915,265 955,270 960,310 940,325 975,370 980,420 975,470 915,490 860,435 800,410 795,340',
 'de-berlin':'E 862,370 880,352 905,370 905,385 870,382',
 'de-weser':'E 410,245 490,240 515,255 525,300 510,335 500,390 475,375 440,390 405,400 380,365 405,330',
 'de-luneburg':'E 515,255 525,225 570,225 610,250 630,240 680,270 740,300 680,330 650,345 635,365 560,340 525,310',
 'de-braunschweig':'E 500,340 530,315 560,340 645,365 640,415 590,450 550,380 500,375',
 'de-anhalt':'E 680,335 740,310 795,340 800,410 860,435 860,465 790,480 795,520 740,530 700,490 670,430 690,380',
 'de-munster':'E 385,430 405,400 440,390 475,375 485,420 500,450 420,470',
 'de-arnsberg':'E 415,470 500,455 545,480 480,560 450,530 410,490',
 'de-dusseldorf':'E 330,445 385,435 395,480 420,510 375,530 345,510',
 'de-koln':'E 345,515 375,530 420,510 458,540 375,600 340,560',
 'de-kassel':'E 490,420 510,375 550,380 590,450 540,480 500,450',
 'de-hessen':'E 540,480 590,465 640,500 620,570 540,540 485,560',
 'de-trier':'E 355,605 415,630 410,670 370,690 310,690 355,630',
 'de-darmstadt':'E 465,630 505,595 600,600 555,645 555,690 530,695 505,655',
 'de-freiburg':'E 490,750 505,690 530,695 590,680 545,715 510,820 495,790 455,780',
 'de-stuttgart':'E 595,665 615,690 635,715 660,790 630,795 600,790 540,795 550,720 590,690',
 'de-oberbayern':'E 705,755 745,745 755,790 815,810 855,905 800,890 720,915 690,905 690,835',
 'de-niederbayern':'E 755,790 790,770 835,735 870,735 915,775 885,800 890,815 850,830 815,810',
 'de-saxony':'E 795,520 860,510 870,485 920,490 975,470 1000,480 1000,540 965,530 955,550 860,590 785,600 795,560',
 'pl-zachodnio':'E 950,235 985,210 1100,170 1140,160 1150,250 1100,310 1040,320 980,350 940,325 960,310 955,270',
 'pl-pomorskie':'E 1140,160 1135,135 1255,115 1280,160 1340,165 1320,205 1345,220 1320,250 1235,235 1180,260 1150,250',
 'pl-warmia':'E 1340,165 1568,170 1568,260 1500,265 1400,295 1330,260 1320,250 1345,220 1320,205',
 'pl-kujawsko':'E 1180,265 1235,235 1320,250 1355,295 1330,340 1330,380 1280,375 1190,340',
 'pl-lubuskie':'E 980,350 1040,320 1075,310 1070,400 1105,440 1040,480 1005,485 980,420',
 'pl-wielkopolska':'E 1150,250 1180,265 1190,340 1310,395 1280,430 1230,515 1205,470 1130,450 1105,440 1070,400 1075,340 1100,310',
 'pl-lodzkie':'E 1310,395 1280,375 1330,380 1400,385 1420,430 1415,490 1370,500 1240,515 1230,515 1280,430',
 'pl-mazowieckie':'E 1330,340 1355,295 1400,295 1500,265 1568,260 1568,500 1520,510 1510,540 1425,495 1415,490 1420,430 1400,385 1330,380',
 'pl-warsaw':'E 1412,385 1430,360 1470,370 1510,365 1525,400 1520,425 1440,430',
 'pl-dolno':'E 1005,485 1040,480 1105,440 1130,450 1205,470 1225,515 1165,600 1150,595 1130,625 1100,580 1010,535',
 'pl-opole':'E 1165,600 1190,520 1240,515 1280,525 1270,600 1235,625 1210,630',
 'pl-slaskie':'E 1280,525 1320,525 1375,585 1320,625 1340,685 1310,695 1280,660 1235,625 1270,600',
 'pl-malopolska':'E 1320,625 1375,585 1470,610 1485,700 1375,720 1340,685',
 'pl-swieto':'E 1370,500 1415,490 1510,540 1510,575 1410,620 1370,560',
 'cz-prague-ring':'E 890,635 1010,580 1035,655 1000,685 910,690',
 'cz-prague':'E 950,630 965,620 980,640 955,645',
 'cz-east':'E 1035,655 1135,680 1140,620 1150,595 1210,630 1280,660 1240,710 1195,755 1165,750 1135,685',
 'sk-west':'E 1170,795 1250,730 1280,720 1260,760 1285,800 1295,850 1280,880 1205,885 1165,850',
 'sk-bratislava':'E 1150,800 1170,790 1190,830 1165,850',
 'hu-west':'G 350,170 415,130 420,175 510,130 510,235 445,230 360,255',
 'hu-budapest-ring':'G 500,140 550,140 555,175 520,180',
 'hu-budapest':'G 518,152 535,148 545,160 528,170',
 'hu-east':'G 620,250 655,160 720,90 815,40 880,85 810,150 750,225 710,195 660,245',
 'hu-south':'G 360,255 445,230 510,260 500,360 465,385 400,375 345,310',
 'at-tirol':'E 640,915 660,910 720,915 800,890 855,905 830,930 785,950 700,965 640,970',
 'at-vorarlberg':'E 600,905 640,915 640,970 595,950',
 'at-kaernten':'E 790,960 830,950 900,970 1000,965 1005,995 970,1025 900,1010 800,985',
 'at-salzburg':'E 830,930 855,905 850,860 910,940 900,965 830,950',
 'at-upper':'E 850,830 890,815 885,800 915,775 955,795 1000,800 965,850 985,880 905,890 905,930 855,870',
 'at-lower':'E 1000,755 1145,775 1150,800 1150,850 1110,880 1040,880 985,880 965,850 1000,800 955,795',
 'at-vienna':'E 1095,825 1115,825 1125,840 1095,840',
 'at-steiermark':'E 905,890 985,880 1040,880 1110,890 1125,900 1100,970 1000,965 915,960',
 'at-burgenland':'E 1110,880 1160,855 1160,880 1125,900',
 'hr-pannonian':'G 215,375 205,340 285,290 400,375 465,385 510,365 525,440 555,460 530,470 525,505 500,480 285,465 220,465 215,495 150,460 175,430',
 'rs-vojvodina':'G 515,370 645,345 690,390 690,420 745,460 750,515 690,530 685,525 650,480 615,530 590,525 550,510 530,500 530,470 555,460 520,430',
 'rs-belgrade':'G 615,530 650,480 690,530 690,570 640,580',
 'rs-west':'G 550,510 590,525 615,530 640,580 690,570 780,610 750,650 755,700 695,725 650,770 550,690 570,650 555,620 535,570',
 'al-mid':'G 570,970 600,955 660,970 665,1010 650,1055 600,1040 570,1015',
 'al-south':'G 555,1050 570,1015 600,1040 650,1055 665,1020 705,1040 710,1075 640,1150 630,1195 555,1100',
 'bg-nw':'G 840,610 860,595 880,605 890,640 1020,655 1095,665 1095,710 1070,760 1070,790 1020,790 1000,750 905,735 890,735 835,680',
 'bg-north':'G 1095,680 1135,665 1200,610 1300,630 1240,700 1175,690 1180,755 1170,780 1070,780 1070,750',
 'bg-ne':'G 1300,630 1350,630 1410,655 1405,695 1355,710 1340,775 1290,765 1185,760 1180,690 1220,700 1245,690',
 'bg-sw':'G 890,735 905,735 1000,750 1020,790 985,815 965,880 990,950 890,970 885,890 840,850 850,775',
 'bg-se':'G 1020,790 1080,790 1090,860 1190,880 1220,860 1215,905 1185,935 1190,970 1100,985 1050,960 990,950 965,880 985,815',
 'bg-east':'G 1080,790 1170,785 1185,760 1290,765 1340,775 1315,825 1360,890 1290,880 1220,860 1190,880 1090,860',
 'ro-nw':'G 810,150 880,85 910,75 1030,95 1075,125 1085,205 1000,245 985,295 930,285 865,295 830,285 800,270 750,265',
 'ro-ne':'G 1075,125 1095,100 1185,90 1205,60 1250,60 1285,120 1360,220 1380,290 1365,340 1290,335 1210,350 1170,290 1145,220 1110,200 1085,205',
 'ro-center':'G 865,295 930,285 985,295 1000,245 1085,205 1110,200 1145,220 1170,290 1210,350 1205,390 1180,420 1105,430 1090,410 1030,415 945,420 890,320',
 'ro-west':'G 645,345 720,320 750,265 800,270 830,285 865,295 890,320 945,420 860,455 815,545 750,515 745,460 690,420 690,390',
 'ro-southwest':'G 860,455 945,425 1030,415 1030,505 1060,560 1050,650 1020,655 890,640 880,605 860,595 850,540 815,545',
 'ro-south':'G 1030,415 1090,410 1105,430 1180,420 1225,505 1335,515 1365,560 1345,600 1290,605 1200,610 1135,665 1050,650 1060,560 1030,505',
 'ro-bucharest':'G 1165,530 1195,520 1210,550 1195,585 1165,580',
 'gr-macedonia':'G 775,1040 880,990 960,990 995,1020 960,1055 975,1110 950,1125 885,1075 860,1100 850,1155 810,1080',
 'gr-thrace':'G 960,985 1050,960 1100,985 1190,970 1225,935 1230,965 1205,980 1205,1030 1175,1050 1140,1035 1060,1025 985,1050 995,1020',
 'gr-thessaly':'G 725,1180 795,1165 815,1130 860,1180 900,1235 875,1280 825,1250 795,1280 745,1260',
 'gr-sterea':'G 745,1265 795,1285 825,1255 875,1285 900,1280 960,1320 985,1340 1005,1375 900,1370 790,1370 800,1330',
 'gr-attica':'G 905,1405 985,1385 990,1460 950,1425 910,1415'
};
const leftIslets = ['H 160,428','H 200,490','H 225,510','H 235,495','H 205,530','H 220,540','H 185,555','H 180,575','H 155,590','H 300,425','H 285,450','H 345,415','H 480,280','H 472,318','H 90,685','H 765,780','H 755,843','H 790,825','H 1020,658','H 1020,78','H 975,85','H 1115,80','H 1095,115','H 715,155','H 880,605','H 900,590','H 955,590','H 980,592','H 550,928','H 630,1200','H 585,1240','H 652,1298','H 865,1150','H 970,1320','H 1005,1180','H 845,1330','H 655,1335','H 105,1402','H 137,1458','H 150,1505','H 80,1155','H 770,1085','H 785,1105','H 755,1115','H 820,1125','A 628,822','A 622,865','A 628,985','A 396,925','A 411,965',
 'F 692,65','F 385,370','F 500,365','F 515,380','F 440,440','F 478,418','F 155,1160','F 500,1385','F 112,800','F 510,190',
 'E 495,105','E 500,130','E 525,150','E 465,185','E 510,210','E 265,272','E 298,265','E 380,250','E 235,305','E 810,1295','E 612,1390','E 650,1418','E 695,1465','E 810,1515','E 1043,1488','E 1105,1462','E 1090,1390','E 655,115','E 710,155',
 'B 360,300','B 415,368','B 932,703','B 965,835','B 868,940','B 897,998','B 945,990','B 287,996','B 367,1033','B 1273,1060','B 515,828',
 'G 255,748','G 275,835','G 200,868','G 270,700','G 110,565','G 125,515','G 45,1055','G 140,1350','G 1078,1218','G 1035,1305','G 1130,1345','G 935,1145','G 985,1115','G 880,1260','G 930,1265','G 960,1270','G 985,1265','G 990,1240','G 1045,1065','G 1130,1092','G 1060,1440','G 1245,1455','G 1185,1475','G 1015,1475','G 975,1490','G 1020,1500','G 1070,1495','G 1105,1495','G 1260,1490','G 1240,1515','G 935,1455','G 905,1515','G 935,1500','G 1030,1530','G 1050,1555','G 1120,1545','G 1095,1545','G 1265,1555','G 935,1560','G 1160,1560',
 'B 1320,925','B 1285,945','B 1310,945','B 1325,965','B 1350,955','B 1372,935','B 1385,960','B 1398,952','B 1375,1015','B 1365,1025','B 1235,975'];

/* ---------- England and Wales map: population in millions ---------- */
const rightRegionNames = ['orkney-sliver','hebrides','highlands','north-eastern-scotland','southern-scotland','northumberland','cumbria','tees-valley','north-yorkshire','east-yorkshire','lancashire','greater-manchester','west-yorkshire','south-yorkshire','cheshire','wirral','anglesey','north-wales','west-wales','shropshire-hereford','staffordshire','derby-nottingham','lincolnshire','west-midlands-ring','leicestershire','warwickshire','birmingham','east-anglia','bedfordshire','essex','berkshire-oxfordshire','surrey-west','hampshire','isle-of-wight','sussex-surrey','kent','london-outer','london-south','london-west','london-east','london-inner','london-southwest','london-southeast','devon','dorset-somerset','cornwall','france','ireland-east'];
const rightRegionValues = [0.55,0.55,1.55,2.0,0.88,1.55,0.55,1.2,0.88,0.88,1.55,2.85,2.35,1.4,1.55,1.55,2.0,2.0,2.0,1.2,0.88,2.2,0.7,1.7,1.85,1.4,2.85,2.5,1.85,1.85,2.35,2.5,2.0,2.0,2.85,1.85,1.85,1.4,2.0,1.85,2.2,1.2,2.2,1.2,1.4,0.55,null,1.85];
const rightRegionShapes = {
 'orkney-sliver':'C 17,155 55,155 17,238',
 'hebrides':'C 90,155 215,155 195,235 138,212 135,280 170,295 185,350 182,385 155,385 125,325 100,410 70,425',
 'highlands':'C 225,210 228,175 300,190 318,200 290,175 260,155 400,155 425,195 437,245 405,260 370,225 345,245 345,290',
 'north-eastern-scotland':'C 400,155 500,155 562,175 585,155 665,155 692,178 655,220 555,263 505,230 490,250 437,245 425,195',
 'southern-scotland':'C 225,210 345,290 345,245 370,225 405,260 437,245 490,250 505,230 555,263 655,220 692,178 755,235 715,305 715,395 635,505 565,587 480,597 395,675 322,650 308,708 233,647 210,705 176,628 180,590 195,585 208,520 230,470 270,385 268,338 225,282',
 'northumberland':'C 755,235 832,348 862,550 883,605 885,645 862,660 850,635 795,625 705,672 657,650 665,545 635,505 715,395 715,305',
 'cumbria':'C 635,505 665,545 657,650 705,672 700,720 730,810 705,840 698,905 600,938 550,972 510,915 462,785 500,635 520,610 555,613 565,587',
 'tees-valley':'C 705,672 795,625 850,635 862,660 885,645 912,715 918,740 985,773 965,800 905,795 868,803 820,783 730,815 700,720',
 'north-yorkshire':'C 730,815 820,783 868,803 905,795 965,800 985,773 1032,815 1098,948 1040,950 962,1018 962,1120 940,1165 905,1177 883,1048 810,1050 778,1035 752,1075 720,1020 675,990 662,950 675,915 698,905 705,840',
 'east-yorkshire':'C 962,1018 1040,950 1098,948 1107,962 1098,1030 1150,1155 1115,1167 1090,1135 1080,1128 1005,1148 1085,1140 1135,1220 1110,1248 1080,1190 1040,1240 1005,1222 988,1247 965,1225 973,1165 940,1163 962,1120',
 'lancashire':'C 600,938 675,915 662,950 675,990 720,1020 752,1075 737,1150 692,1160 690,1175 665,1172 628,1218 600,1225 572,1210 580,1150 607,1133 567,1108 567,1065 597,1025 605,965',
 'greater-manchester':'C 628,1218 665,1172 690,1175 692,1160 737,1150 780,1215 762,1280 705,1290 680,1275 670,1245 655,1250',
 'west-yorkshire':'C 752,1075 778,1035 810,1050 883,1048 905,1177 893,1195 842,1185 795,1218 780,1215 737,1150',
 'south-yorkshire':'C 795,1218 842,1185 893,1195 940,1163 973,1165 965,1225 912,1307 885,1303 838,1307',
 'cheshire':'C 580,1150 560,1205 585,1280 620,1308 650,1305 640,1280 655,1250 628,1218 600,1225 572,1210',
 'wirral':'C 545,1285 565,1262 590,1305 555,1315',
 'anglesey':'C 285,1270 315,1260 370,1315 330,1390 313,1385 278,1310',
 'north-wales':'C 272,1510 360,1355 435,1305 510,1293 512,1340 550,1410 550,1455 490,1500 465,1545 D 405,60 375,45 372,0 C 357,1490 292,1522',
 'west-wales':'D 405,60 445,125 440,210 450,270 428,365 467,373 497,348 515,357 548,350 580,410 555,455 510,458 460,483 415,425 360,452 340,440 380,395 292,380 208,427 172,385 175,340 160,318 200,268 340,182',
 'shropshire-hereford':'C 510,1293 512,1340 550,1410 550,1455 490,1500 465,1545 D 405,60 445,125 440,210 450,270 428,365 467,373 497,348 515,357 548,350 580,410 555,455 510,458 460,483 505,517 540,505 565,465 640,410 640,345 565,285 558,250 560,190 585,140 542,108 562,70 568,0 C 555,1545 550,1490 580,1463 620,1480 625,1450 605,1440 585,1355 555,1318',
 'staffordshire':'C 555,1318 650,1305 640,1255 670,1245 680,1275 705,1290 762,1280 765,1355 668,1460 625,1448 605,1440 585,1355',
 'derby-nottingham':'C 795,1218 838,1307 885,1303 912,1307 965,1230 988,1247 1002,1345 990,1455 950,1515 910,1528 898,1498 835,1568 830,1510 795,1465 765,1355 762,1280 780,1215',
 'lincolnshire':'C 988,1247 1005,1222 1040,1240 1080,1190 1110,1248 1135,1220 1167,1245 1197,1345 1197,1400 1152,1473 1185,1525 1175,1550 D 1130,18 1045,28 1043,0 C 1000,1500 990,1455 1002,1345',
 'west-midlands-ring':'C 580,1463 620,1480 625,1450 668,1460 765,1355 795,1465 830,1510 835,1568 D 838,0 805,45 790,50 775,25 733,38 733,108 710,100 648,157 605,128 585,140 542,108 562,70 568,0 C 555,1545 550,1490',
 'leicestershire':'C 835,1568 898,1498 910,1528 950,1515 990,1455 1010,1530 1045,1568 D 1045,28 1065,90 1048,155 1010,200 975,262 945,250 927,270 905,268 888,210 910,125 890,85 850,55 838,0',
 'warwickshire':'D 585,140 605,128 648,157 710,100 733,108 783,110 788,135 845,122 858,130 865,110 825,85 805,45 838,0 850,55 890,85 910,125 888,210 847,285 827,283 805,235 785,268 712,282 695,270 675,290 672,325 640,345 565,285 558,250 560,190',
 'birmingham':'D 732,38 778,27 790,50 805,45 825,85 865,110 858,130 845,122 788,135 783,110 733,108',
 'east-anglia':'C 1185,1525 1215,1515 1245,1458 1335,1462 1395,1490 1450,1555 1452,1568 D 1460,70 1425,240 1385,290 1340,298 1285,290 1260,250 1215,252 1205,262 1182,247 1148,273 1100,225 1048,155 1065,90 1045,28 1130,18',
 'bedfordshire':'D 1048,155 1100,225 1148,273 1165,340 1135,405 1103,408 1045,432 1013,365 1032,350 1010,315 1025,230 1010,200',
 'essex':'D 1148,273 1182,247 1205,262 1215,252 1260,250 1285,290 1368,310 1368,328 1342,360 1295,362 1305,385 1305,410 1245,422 1285,430 1285,460 1230,460 1205,480 1170,475 1192,445 1165,420 1135,405 1165,340',
 'berkshire-oxfordshire':'D 888,210 905,268 927,270 945,250 975,262 1010,200 1025,230 1010,315 1032,350 1013,365 1043,432 1042,485 990,537 893,522 855,537 840,465 823,400 825,283 847,285',
 'surrey-west':'D 640,345 672,325 675,290 695,270 712,282 785,268 805,235 825,283 823,400 840,465 855,537 830,585 830,680 775,673 745,683 705,632 713,575 708,540 680,557 580,543 610,483 637,477 663,405 640,415',
 'hampshire':'D 855,537 893,522 990,537 993,575 978,595 993,632 968,670 960,742 950,735 945,742 933,735 915,740 865,700 885,745 820,770 775,673 830,680 830,585',
 'isle-of-wight':'D 893,758 928,788 912,825 893,833 855,795',
 'sussex-surrey':'D 990,537 1042,485 1078,535 1105,540 1145,548 1145,610 1245,660 1293,678 1295,695 1185,765 1095,735 988,770 960,742 968,670 993,632 978,595 993,575',
 'kent':'D 1170,490 1255,490 1252,520 1283,497 1313,533 1340,520 1400,528 1392,610 1330,645 1313,695 1295,695 1293,678 1245,660 1145,610 1145,548 1162,505',
 'london-outer':'D 1043,432 1103,408 1135,405 1165,420 1192,445 1170,475 1162,505 1078,535 1042,485',
 'london-south':'D 1092,500 1105,508 1140,505 1162,505 1145,545 1105,540 1078,535',
 'london-west':'D 1043,432 1103,408 1105,430 1090,465 1090,510 1078,535 1042,485',
 'london-east':'D 1135,470 1175,478 1160,505 1140,500',
 'london-inner':'D 1105,430 1125,432 1150,460 1120,470 1110,450',
 'london-southwest':'D 1090,465 1110,450 1115,475 1090,480',
 'london-southeast':'D 1112,475 1140,500 1110,505',
 'devon':'D 290,695 297,665 333,663 362,593 440,577 428,620 585,735 587,775 527,797 482,855 480,910 450,972 420,968 403,940 375,938 347,870 308,712',
 'dorset-somerset':'D 440,577 565,593 580,543 680,557 708,540 713,575 705,632 745,683 775,673 820,770 760,778 767,800 760,822 665,818 587,775 585,735 428,620',
 'cornwall':'D 290,695 308,712 347,870 338,908 255,932 238,965 192,985 188,1045 167,1065 120,1013 77,1030 80,997 153,950 192,888 205,840 240,820 277,768',
 'france':'D 1509,680 1436,730 1430,880 1443,920 1425,932 1435,978 1395,1030 1290,1097 1509,1097',
 'ireland-east':'C 17,550 22,590 72,672 35,738 103,742 115,795 112,840 103,838 90,790 85,815 100,865 92,905 47,918 32,975 17,988'
};
const thamesLine = 'D 1090,480 1115,472 1150,468 1185,485 1235,490';

/* ---------- Axis functions: crop-frame coordinates to page pixels ---------- */
const frames = {A:[0,0,1.148,0.829],B:[0,1200,1.148,0.908],C:[1800,100,1.0159,0.7653],D:[1800,1300,1.0159,0.8444],E:[600,1000,0.5102,0.5102],F:[100,800,0.3827,0.3827],G:[1050,1400,0.4145,0.4145],H:[900,120,0.574,0.574]};
function toPoints(spec){
  let f = frames.A;
  const out = [];
  spec.trim().split(/\s+/).forEach(function(tok){
    if(frames[tok]){ f = frames[tok]; return; }
    const p = tok.split(',');
    out.push((f[0]+f[2]*parseFloat(p[0])).toFixed(1)+','+(f[1]+f[3]*parseFloat(p[1])).toFixed(1));
  });
  return out.join(' ');
}
function colorFor(value, edges){
  if(value === null) return missingColor;
  for(let i=0;i<edges.length;i++){ if(value <= edges[i]) return classColors[i]; }
  return classColors[classColors.length-1];
}
const NS = 'http://www.w3.org/2000/svg';

/* ---------- Europe map ---------- */
const leftMap = document.getElementById('left-map');
leftCountryNames.forEach(function(name,i){
  const el = document.createElementNS(NS,'polygon');
  
  
  el.setAttribute('points', toPoints(leftCountryShapes[name]));
  el.setAttribute('fill', colorFor(leftCountryValues[i], leftBinEdges));
  leftMap.appendChild(el);
});
leftRegionNames.forEach(function(name,i){
  const el = document.createElementNS(NS,'polygon');
  
  
  el.setAttribute('points', toPoints(leftRegionShapes[name]));
  el.setAttribute('fill', colorFor(leftRegionValues[i], leftBinEdges));
  el.setAttribute('stroke', '#8a8a78');
  el.setAttribute('stroke-width', '1.1');
  el.setAttribute('stroke-linejoin', 'round');
  leftMap.appendChild(el);
});
leftCountryNames.forEach(function(name){
  const el = document.createElementNS(NS,'polygon');
  
  
  el.setAttribute('points', toPoints(leftCountryShapes[name]));
  el.setAttribute('fill', 'none');
  el.setAttribute('stroke', '#000');
  el.setAttribute('stroke-width', '3.6');
  el.setAttribute('stroke-linejoin', 'round');
  leftMap.appendChild(el);
});
leftIslets.forEach(function(spec){
  const p = toPoints(spec).split(',');
  const el = document.createElementNS(NS,'circle');
  
  
  el.setAttribute('cx', p[0]);
  el.setAttribute('cy', p[1]);
  el.setAttribute('r', '3.6');
  el.setAttribute('fill', '#000');
  leftMap.appendChild(el);
});

/* ---------- England and Wales map ---------- */
const rightMap = document.getElementById('right-map');
rightRegionNames.forEach(function(name,i){
  const el = document.createElementNS(NS,'polygon');
  
  
  el.setAttribute('points', toPoints(rightRegionShapes[name]));
  el.setAttribute('fill', colorFor(rightRegionValues[i], rightBinEdges));
  el.setAttribute('stroke', '#111');
  el.setAttribute('stroke-width', '2.2');
  el.setAttribute('stroke-linejoin', 'round');
  rightMap.appendChild(el);
});
const thames = document.createElementNS(NS,'polyline');


thames.setAttribute('points', toPoints(thamesLine));
thames.setAttribute('fill', 'none');
thames.setAttribute('stroke', '#000');
thames.setAttribute('stroke-width', '4');
rightMap.appendChild(thames);

/* ---------- Legends ---------- */
function buildLegend(group, labels, markerX, textX, rowY, textWidth, fontSize, rx, ry, prefix){
  labels.forEach(function(label,i){
    const col = Math.floor(i/5);
    const row = i%5;
    const marker = document.createElementNS(NS,'ellipse');
    
    
    marker.setAttribute('cx', markerX[col]);
    marker.setAttribute('cy', rowY[row]);
    marker.setAttribute('rx', rx);
    marker.setAttribute('ry', ry);
    marker.setAttribute('fill', classColors[i]);
    group.appendChild(marker);
    const text = document.createElementNS(NS,'text');
    
    
    text.setAttribute('x', textX[col]);
    text.setAttribute('y', rowY[row]+fontSize*0.365);
    text.setAttribute('font-size', fontSize);
    text.setAttribute('textLength', textWidth);
    text.setAttribute('lengthAdjust', 'spacingAndGlyphs');
    text.textContent = label;
    group.appendChild(text);
  });
}
buildLegend(document.getElementById('left-legend'), leftLegendLabels, [122,705,1289], [193,777,1360], [2287,2347,2408,2468,2529], 394, 41, 17.5, 18, 'europe');
buildLegend(document.getElementById('right-legend'), rightLegendLabels, [1867,2389,2911], [1931,2453,2975], [2300,2357,2415,2474,2532], 352, 37, 16, 17, 'england');
</script>
</body>
</html>
